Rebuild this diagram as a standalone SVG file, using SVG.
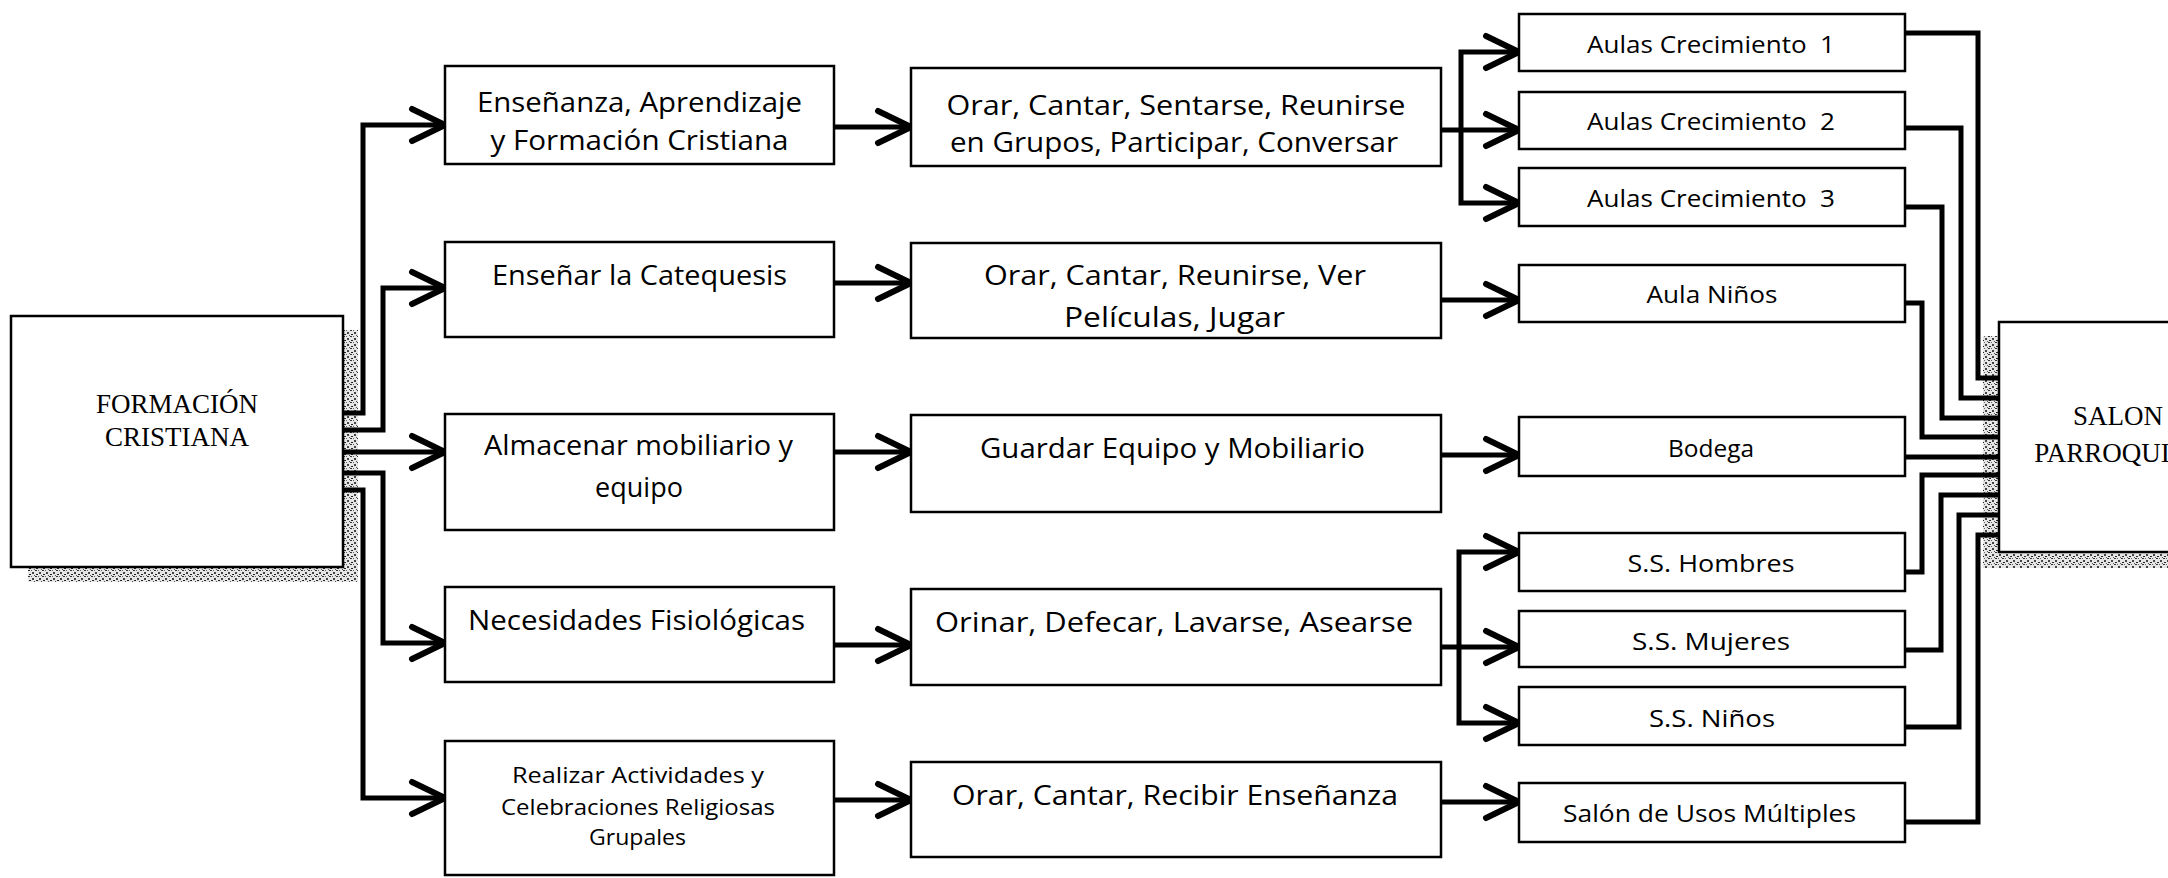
<svg xmlns="http://www.w3.org/2000/svg" width="2168" height="878" viewBox="0 0 2168 878">
<style>
.box{fill:#fff;stroke:#000;stroke-width:2.5}
.c{fill:none;stroke:#000;stroke-width:5;stroke-linejoin:miter}
.a{marker-end:url(#arr)}
.t{font-family:'Open Sans','DejaVu Sans',sans-serif;font-size:27px;text-anchor:middle;fill:#000}
.t4{font-size:24px}
.ts{font-size:22px}
.s{font-family:'Liberation Serif','Times New Roman',serif;font-size:27px;text-anchor:middle;fill:#000}
.sh{fill:url(#dith)}
</style>
<defs>
<marker id="arr" markerUnits="userSpaceOnUse" markerWidth="44" markerHeight="44" viewBox="-40 -22 44 44" refX="0" refY="0" orient="auto">
<polyline points="-33,-16 0,0 -33,16" fill="none" stroke="#000" stroke-width="6" stroke-linecap="round" stroke-linejoin="round"/>
</marker>
<pattern id="dith" width="7" height="6" patternUnits="userSpaceOnUse">
<rect width="7" height="6" fill="#e6e6e6"/>
<rect x="0" y="0" width="2" height="1" fill="#333"/>
<rect x="4" y="2" width="2" height="2" fill="#444"/>
<rect x="1" y="4" width="2" height="1" fill="#222"/>
<rect x="6" y="5" width="1" height="1" fill="#555"/>
<rect x="3" y="0" width="1" height="1" fill="#666"/>
</pattern>
</defs>
<rect width="2168" height="878" fill="#fff"/>

<g id="shadows">
<rect class="sh" x="343" y="330" width="15" height="252"/>
<rect class="sh" x="28" y="567" width="330" height="15"/>
<rect class="sh" x="1983" y="336" width="16" height="232"/>
<rect class="sh" x="1983" y="552" width="185" height="16"/>
</g>

<g id="connectors">
<path class="c a" d="M343,413 H363 V125 H445"/>
<path class="c a" d="M343,430 H383 V288 H445"/>
<path class="c a" d="M343,452 H445"/>
<path class="c a" d="M343,473 H383 V643 H445"/>
<path class="c a" d="M343,490 H363 V798 H445"/>
<path class="c a" d="M834,127 H911"/>
<path class="c a" d="M834,283 H911"/>
<path class="c a" d="M834,452 H911"/>
<path class="c a" d="M834,645 H911"/>
<path class="c a" d="M834,800 H911"/>
<path class="c a" d="M1461,130 V52 H1519"/>
<path class="c a" d="M1441,130 H1519"/>
<path class="c a" d="M1461,130 V203 H1519"/>
<path class="c a" d="M1441,300 H1519"/>
<path class="c a" d="M1441,455 H1519"/>
<path class="c a" d="M1459,647 V552 H1519"/>
<path class="c a" d="M1441,647 H1519"/>
<path class="c a" d="M1459,647 V723 H1519"/>
<path class="c a" d="M1441,802 H1519"/>
<path class="c" d="M1905,33 H1978 V378 H1999"/>
<path class="c" d="M1905,128 H1961 V398 H1999"/>
<path class="c" d="M1905,207 H1942 V418 H1999"/>
<path class="c" d="M1905,303 H1922 V437 H1999"/>
<path class="c" d="M1905,457 H1999"/>
<path class="c" d="M1905,572 H1922 V475 H1999"/>
<path class="c" d="M1905,650 H1941 V495 H1999"/>
<path class="c" d="M1905,727 H1959 V515 H1999"/>
<path class="c" d="M1905,822 H1978 V535 H1999"/>
</g>

<g id="formacion">
<rect class="box" x="11" y="316" width="332" height="251"/>
<text class="s" x="177" y="413">FORMACIÓN</text>
<text class="s" x="177" y="446">CRISTIANA</text>
</g>

<g id="ensenanza">
<rect class="box" x="445" y="66" width="389" height="98"/>
<text class="t" x="639.5" y="112" textLength="325" lengthAdjust="spacingAndGlyphs">Enseñanza, Aprendizaje</text>
<text class="t" x="639.5" y="150" textLength="298" lengthAdjust="spacingAndGlyphs">y Formación Cristiana</text>
</g>
<g id="catequesis">
<rect class="box" x="445" y="242" width="389" height="95"/>
<text class="t" x="639.5" y="285" textLength="295" lengthAdjust="spacingAndGlyphs">Enseñar la Catequesis</text>
</g>
<g id="almacenar">
<rect class="box" x="445" y="414" width="389" height="116"/>
<text class="t" x="638.5" y="455" textLength="309" lengthAdjust="spacingAndGlyphs">Almacenar mobiliario y</text>
<text class="t" x="639" y="497">equipo</text>
</g>
<g id="necesidades">
<rect class="box" x="445" y="587" width="389" height="95"/>
<text class="t" x="636.5" y="630" textLength="337" lengthAdjust="spacingAndGlyphs">Necesidades Fisiológicas</text>
</g>
<g id="realizar">
<rect class="box" x="445" y="741" width="389" height="134"/>
<text class="t ts" x="638" y="783" textLength="252" lengthAdjust="spacingAndGlyphs">Realizar Actividades y</text>
<text class="t ts" x="638" y="815" textLength="274" lengthAdjust="spacingAndGlyphs">Celebraciones Religiosas</text>
<text class="t ts" x="637.5" y="845" textLength="97" lengthAdjust="spacingAndGlyphs">Grupales</text>
</g>

<g id="orar1">
<rect class="box" x="911" y="68" width="530" height="98"/>
<text class="t" x="1176" y="115" textLength="459" lengthAdjust="spacingAndGlyphs">Orar, Cantar, Sentarse, Reunirse</text>
<text class="t" x="1174" y="152" textLength="448" lengthAdjust="spacingAndGlyphs">en Grupos, Participar, Conversar</text>
</g>
<g id="orar2">
<rect class="box" x="911" y="243" width="530" height="95"/>
<text class="t" x="1175" y="285" textLength="382" lengthAdjust="spacingAndGlyphs">Orar, Cantar, Reunirse, Ver</text>
<text class="t" x="1174.5" y="327" textLength="221" lengthAdjust="spacingAndGlyphs">Películas, Jugar</text>
</g>
<g id="guardar">
<rect class="box" x="911" y="415" width="530" height="97"/>
<text class="t" x="1172.5" y="458" textLength="385" lengthAdjust="spacingAndGlyphs">Guardar Equipo y Mobiliario</text>
</g>
<g id="orinar">
<rect class="box" x="911" y="589" width="530" height="96"/>
<text class="t" x="1174" y="632" textLength="478" lengthAdjust="spacingAndGlyphs">Orinar, Defecar, Lavarse, Asearse</text>
</g>
<g id="orar3">
<rect class="box" x="911" y="762" width="530" height="95"/>
<text class="t" x="1175" y="805" textLength="446" lengthAdjust="spacingAndGlyphs">Orar, Cantar, Recibir Enseñanza</text>
</g>

<g id="aulas1">
<rect class="box" x="1519" y="14" width="386" height="57"/>
<text class="t t4" x="1711" y="53" textLength="248" lengthAdjust="spacingAndGlyphs">Aulas Crecimiento&#160; 1</text>
</g>
<g id="aulas2">
<rect class="box" x="1519" y="92" width="386" height="57"/>
<text class="t t4" x="1711" y="130" textLength="248" lengthAdjust="spacingAndGlyphs">Aulas Crecimiento&#160; 2</text>
</g>
<g id="aulas3">
<rect class="box" x="1519" y="168" width="386" height="58"/>
<text class="t t4" x="1711" y="207" textLength="248" lengthAdjust="spacingAndGlyphs">Aulas Crecimiento&#160; 3</text>
</g>
<g id="aulaninos">
<rect class="box" x="1519" y="265" width="386" height="57"/>
<text class="t t4" x="1712" y="303" textLength="131" lengthAdjust="spacingAndGlyphs">Aula Niños</text>
</g>
<g id="bodega">
<rect class="box" x="1519" y="417" width="386" height="59"/>
<text class="t t4" x="1711" y="457" textLength="86" lengthAdjust="spacingAndGlyphs">Bodega</text>
</g>
<g id="hombres">
<rect class="box" x="1519" y="533" width="386" height="58"/>
<text class="t t4" x="1711" y="572" textLength="167" lengthAdjust="spacingAndGlyphs">S.S. Hombres</text>
</g>
<g id="mujeres">
<rect class="box" x="1519" y="611" width="386" height="56"/>
<text class="t t4" x="1711" y="650" textLength="158" lengthAdjust="spacingAndGlyphs">S.S. Mujeres</text>
</g>
<g id="ninos">
<rect class="box" x="1519" y="687" width="386" height="58"/>
<text class="t t4" x="1712" y="727" textLength="126" lengthAdjust="spacingAndGlyphs">S.S. Niños</text>
</g>
<g id="salonusos">
<rect class="box" x="1519" y="783" width="386" height="59"/>
<text class="t t4" x="1709.5" y="822" textLength="293" lengthAdjust="spacingAndGlyphs">Salón de Usos Múltiples</text>
</g>

<g id="salonparroquial">
<rect class="box" x="1999" y="322" width="240" height="230"/>
<text class="s" x="2118" y="425">SALON</text>
<text class="s" x="2120" y="462">PARROQUIAL</text>
</g>
</svg>
